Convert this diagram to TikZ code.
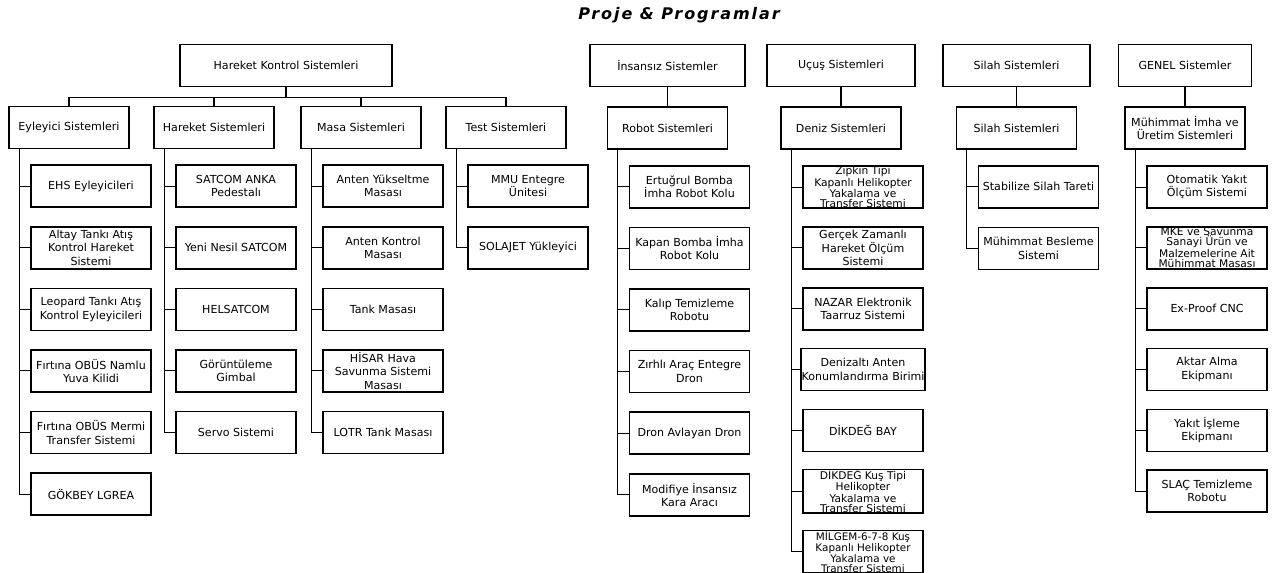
\documentclass[tikz,border=0pt]{standalone}
\usepackage{fontspec}
\setmainfont{DejaVu Sans}
\newfontfamily\titlefont[LetterSpace=12]{DejaVu Sans}
\usetikzlibrary{positioning}

\begin{document}
\begin{tikzpicture}[
    x=0.75pt, y=-0.75pt,
    node distance=13.5pt,
    box/.style={draw, line width=1.2pt, minimum height=31.5pt, minimum width=90pt, align=center, inner xsep=0.5pt, inner ysep=1.5pt, font=\fontsize{8.3}{10}\selectfont},
    group/.style={box},
    sys/.style={box},
    item/.style={box},
    tight/.style={item, inner ysep=0pt, font=\fontsize{8}{7.6}\selectfont},
    title/.style={font=\titlefont\fontsize{12}{14}\selectfont\bfseries\itshape},
    link/.style={line width=0.8pt}
]
\useasboundingbox (0,0) rectangle (1272,572);

\node[title] (title) at (679,15) {Proje \& Programlar};

% Top level
\node[group, minimum width=159pt] (hks) at (286,65.5) {Hareket Kontrol Sistemleri};
\node[group, minimum width=116pt] (ins) at (667.5,65.5) {İnsansız Sistemler};
\node[group, minimum width=111pt] (ucu) at (841,65.5) {Uçuş Sistemleri};
\node[group, minimum width=110pt] (sil) at (1016.5,65.5) {Silah Sistemleri};
\node[group, minimum width=100pt] (gen) at (1185,65.5) {GENEL Sistemler};

% Second level
\node[sys] (eyl) at (69,127.5) {Eyleyici Sistemleri};
\node[sys] (har) at (214,127.5) {Hareket Sistemleri};
\node[sys] (mas) at (361,127.5) {Masa Sistemleri};
\node[sys] (tst) at (506,127.5) {Test Sistemleri};
\node[sys, below=14.25pt of ins] (rob) {Robot Sistemleri};
\node[sys, below=14.25pt of ucu] (den) {Deniz Sistemleri};
\node[sys, below=14.25pt of sil] (sl2) {Silah Sistemleri};
\node[sys, below=14.25pt of gen] (muh) {Mühimmat İmha ve\\Üretim Sistemleri};

% Eyleyici
\node[item, below=11.25pt of eyl, xshift=16.5pt] (eyl1) {EHS Eyleyicileri};
\node[item, below=of eyl1] (eyl2) {Altay Tankı Atış\\Kontrol Hareket\\Sistemi};
\node[item, below=of eyl2] (eyl3) {Leopard Tankı Atış\\Kontrol Eyleyicileri};
\node[item, below=of eyl3] (eyl4) {Fırtına OBÜS Namlu\\Yuva Kilidi};
\node[item, below=of eyl4] (eyl5) {Fırtına OBÜS Mermi\\Transfer Sistemi};
\node[item, below=of eyl5] (eyl6) {GÖKBEY LGREA};

% Hareket
\node[item, below=11.25pt of har, xshift=16.5pt] (har1) {SATCOM ANKA\\Pedestalı};
\node[item, below=of har1] (har2) {Yeni Nesil SATCOM};
\node[item, below=of har2] (har3) {HELSATCOM};
\node[item, below=of har3] (har4) {Görüntüleme\\Gimbal};
\node[item, below=of har4] (har5) {Servo Sistemi};

% Masa
\node[item, below=11.25pt of mas, xshift=16.5pt] (mas1) {Anten Yükseltme\\Masası};
\node[item, below=of mas1] (mas2) {Anten Kontrol\\Masası};
\node[item, below=of mas2] (mas3) {Tank Masası};
\node[item, below=of mas3] (mas4) {HİSAR Hava\\Savunma Sistemi\\Masası};
\node[item, below=of mas4] (mas5) {LOTR Tank Masası};

% Test
\node[item, below=11.25pt of tst, xshift=16.5pt] (tst1) {MMU Entegre\\Ünitesi};
\node[item, below=of tst1] (tst2) {SOLAJET Yükleyici};

% Robot
\node[item, below=11.25pt of rob, xshift=16.5pt] (rob1) {Ertuğrul Bomba\\İmha Robot Kolu};
\node[item, below=of rob1] (rob2) {Kapan Bomba İmha\\Robot Kolu};
\node[item, below=of rob2] (rob3) {Kalıp Temizleme\\Robotu};
\node[item, below=of rob3] (rob4) {Zırhlı Araç Entegre\\Dron};
\node[item, below=of rob4] (rob5) {Dron Avlayan Dron};
\node[item, below=of rob5] (rob6) {Modifiye İnsansız\\Kara Aracı};

% Deniz (fixed row pitch, tall texts spill over)
\node[tight] (den1) at ([xshift=16.5pt, yshift=-44.25pt]den.center) {Zıpkın Tipi\\Kapanlı Helikopter\\Yakalama ve\\Transfer Sistemi};
\node[item] (den2) at ([yshift=-45.6pt]den1.center) {Gerçek Zamanlı\\Hareket Ölçüm\\Sistemi};
\node[item] (den3) at ([yshift=-45.6pt]den2.center) {NAZAR Elektronik\\Taarruz Sistemi};
\node[item] (den4) at ([yshift=-45.6pt]den3.center) {Denizaltı Anten\\Konumlandırma Birimi};
\node[item] (den5) at ([yshift=-45.6pt]den4.center) {DİKDEĞ BAY};
\node[tight] (den6) at ([yshift=-45.6pt]den5.center) {DİKDEĞ Kuş Tipi\\Helikopter\\Yakalama ve\\Transfer Sistemi};
\node[tight, font=\fontsize{7.8}{7.1}\selectfont] (den7) at ([yshift=-45.3pt]den6.center) {MİLGEM-6-7-8 Kuş\\Kapanlı Helikopter\\Yakalama ve\\Transfer Sistemi};

% Silah
\node[item, below=11.25pt of sl2, xshift=16.5pt] (sl21) {Stabilize Silah Tareti};
\node[item, below=of sl21] (sl22) {Mühimmat Besleme\\Sistemi};

% Muhimmat
\node[item] (muh1) at ([xshift=16.5pt, yshift=-44.25pt]muh.center) {Otomatik Yakıt\\Ölçüm Sistemi};
\node[tight] (muh2) at ([yshift=-45.6pt]muh1.center) {MKE ve Savunma\\Sanayi Ürün ve\\Malzemelerine Ait\\Mühimmat Masası};
\node[item] (muh3) at ([yshift=-45.6pt]muh2.center) {Ex-Proof CNC};
\node[item] (muh4) at ([yshift=-45.6pt]muh3.center) {Aktar Alma\\Ekipmanı};
\node[item] (muh5) at ([yshift=-45.6pt]muh4.center) {Yakıt İşleme\\Ekipmanı};
\node[item] (muh6) at ([yshift=-45.6pt]muh5.center) {SLAÇ Temizleme\\Robotu};

% Connectors
\foreach \g in {eyl,har,mas,tst}
  \draw[link] (hks.south) -- ++(0,-7.5pt) -| (\g.north);
\draw[link] (ins.south) -- (rob.north);
\draw[link] (ucu.south) -- (den.north);
\draw[link] (sil.south) -- (sl2.north);
\draw[link] (gen.south) -- (muh.north);
\foreach \g/\n in {eyl/6,har/5,mas/5,tst/2,rob/6,den/7,sl2/2,muh/6}
  \foreach \i in {1,...,\n}
    \draw[link] ([xshift=8.25pt]\g.south west) |- (\g\i.west);
\end{tikzpicture}
\end{document}
